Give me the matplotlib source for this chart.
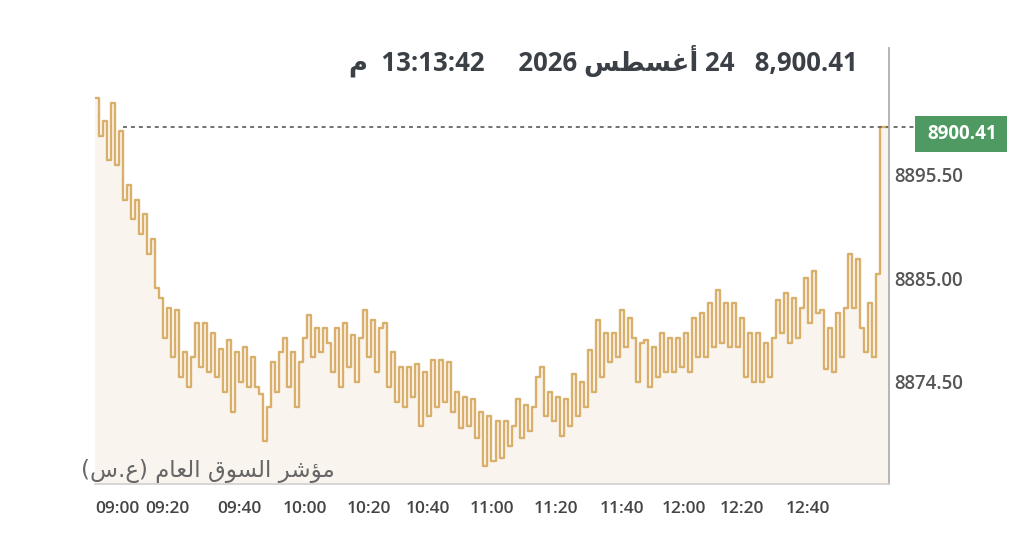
import matplotlib
matplotlib.use("Agg")
import matplotlib.pyplot as plt
from matplotlib.patches import Rectangle
import numpy as np

# ---- data ----
index_values = [
    8903.3, 8899.5, 8901.0, 8897.0, 8902.8, 8896.5, 8900.0, 8893.0, 8894.5, 8891.0,
    8893.0, 8889.5, 8891.5, 8887.5, 8889.0, 8884.0, 8883.0, 8879.0, 8882.0, 8877.0,
    8881.8, 8875.0, 8877.5, 8874.0, 8877.0, 8880.5, 8876.0, 8880.5, 8875.5, 8879.5,
    8875.0, 8877.8, 8873.5, 8878.8, 8871.5, 8877.5, 8874.5, 8878.0, 8874.0, 8877.0,
    8874.0, 8873.3, 8868.5, 8872.0, 8876.5, 8873.5, 8877.5, 8879.0, 8874.0, 8877.5,
    8872.0, 8876.5, 8879.0, 8881.3, 8877.0, 8880.0, 8877.5, 8880.0, 8878.5, 8875.5,
    8880.0, 8874.0, 8880.5, 8876.0, 8879.3, 8874.5, 8879.0, 8881.8, 8877.0, 8880.8,
    8875.5, 8880.0, 8880.5, 8874.0, 8877.5, 8872.5, 8876.0, 8872.0, 8876.0, 8873.0,
    8876.3, 8870.0, 8875.5, 8871.0, 8876.7, 8872.0, 8876.7, 8872.5, 8876.5, 8871.5,
    8873.5, 8869.8, 8873.0, 8870.0, 8872.8, 8868.8, 8871.5, 8866.0, 8871.0, 8866.5,
    8870.5, 8866.8, 8870.5, 8868.0, 8870.0, 8872.8, 8868.8, 8872.2, 8869.5, 8872.0,
    8875.0, 8876.0, 8871.0, 8873.5, 8870.5, 8873.0, 8869.0, 8872.8, 8870.0, 8875.3,
    8871.0, 8874.5, 8872.0, 8877.7, 8873.5, 8880.8, 8875.0, 8879.5, 8876.5, 8879.5,
    8877.0, 8881.8, 8878.0, 8881.0, 8879.0, 8874.5, 8878.5, 8878.8, 8874.0, 8878.0,
    8875.0, 8879.5, 8875.5, 8879.0, 8875.5, 8879.0, 8876.0, 8879.5, 8875.5, 8881.0,
    8877.0, 8881.5, 8877.0, 8882.5, 8878.0, 8883.8, 8878.5, 8882.5, 8878.0, 8882.5,
    8878.0, 8881.0, 8875.0, 8879.5, 8874.5, 8879.5, 8874.5, 8878.5, 8875.0, 8879.0,
    8882.8, 8879.5, 8883.5, 8878.5, 8883.0, 8879.0, 8882.0, 8885.0, 8880.5, 8885.8,
    8881.5, 8881.8, 8875.8, 8880.0, 8875.5, 8881.5, 8877.0, 8882.0, 8887.5, 8882.0,
    8887.0, 8880.0, 8877.5, 8882.5, 8877.0, 8885.5, 8900.41, 8900.41, 8900.41,
]
time_tick_labels = ["09:00", "09:20", "09:40", "10:00", "10:20", "10:40",
                    "11:00", "11:20", "11:40", "12:00", "12:20", "12:40"]
time_tick_index = [5.5, 18, 36, 52.5, 68.5, 83, 99, 115, 131.5, 147, 161.5, 178]
y_ticks = [8874.50, 8885.00, 8895.50]
last_value = 8900.41
y_range = (8864.15, 8908.38)

# Arabic text written with presentation forms in visual order
title_text = ("\uFEE1  13:13:42     2026 \uFEB2\uFEC4\uFEB4\uFECF\uFE83 24   8,900.41")
index_label = ("(\uFEB1.\uFEC9) \uFEE1\uFE8E\uFECC\uFEDF\uFE8D "
               "\uFED5\uFEEE\uFEB4\uFEDF\uFE8D \uFEAE\uFEB7\uFE86\uFEE3")

W, H = 1024, 558
fig = plt.figure(figsize=(W / 100, H / 100), dpi=100)
fig.patch.set_facecolor("white")
ax = fig.add_axes([95 / W, 1 - 484 / H, (889 - 95) / W, (484 - 48) / H])
ax.set_facecolor("white")

x = np.arange(len(index_values))
ax.fill_between(x, index_values, y_range[0], step="post", color="#faf4ee", lw=0)
ax.plot(x, index_values, drawstyle="steps-post", color="#d3a252", lw=1.7, alpha=0.85)

ax.set_xlim(0, len(index_values) - 0.75)
ax.set_ylim(*y_range)

ax.axhline(last_value, xmin=0.035, xmax=1.033, clip_on=False,
           color="#666666", lw=1.3, ls=(0, (2.2, 2.2)))

for s in ["left", "top"]:
    ax.spines[s].set_visible(False)
ax.spines["right"].set_color("#b0b0b0")
ax.spines["right"].set_linewidth(1.3)
ax.spines["bottom"].set_color("#d0d0d0")
ax.spines["bottom"].set_linewidth(1.2)

ax.yaxis.tick_right()
ax.set_yticks(y_ticks)
ax.set_yticklabels([f"{v:.2f}" for v in y_ticks], fontsize=13.5,
                   fontweight="semibold", color="#555555", family="Open Sans")
ax.tick_params(axis="y", length=0, pad=4)

ax.set_xticks(time_tick_index)
ax.set_xticklabels(time_tick_labels, fontsize=12.5, fontweight="semibold",
                   color="#444444", family="Open Sans")
ax.tick_params(axis="x", length=0, pad=12)

fig.add_artist(Rectangle((915 / W, 1 - 152 / H), 92 / W, 36 / H,
                         transform=fig.transFigure, facecolor="#4f9a63",
                         edgecolor="none"))
fig.text(962 / W, 1 - 134 / H, f"{last_value:.2f}", ha="center", va="center",
         fontsize=13.5, fontweight="bold", color="white", family="Open Sans")

fig.text(858 / W, 1 - 61 / H, title_text, ha="right", va="center",
         fontsize=18.5, fontweight="bold", color="#3b4046",
         family=["Open Sans", "DejaVu Sans"])

fig.text(335 / W, 1 - 471 / H, index_label, ha="right", va="center",
         fontsize=16.5, color="#666666", family=["DejaVu Sans"])

fig.savefig("out.png", dpi=100, facecolor="white")
